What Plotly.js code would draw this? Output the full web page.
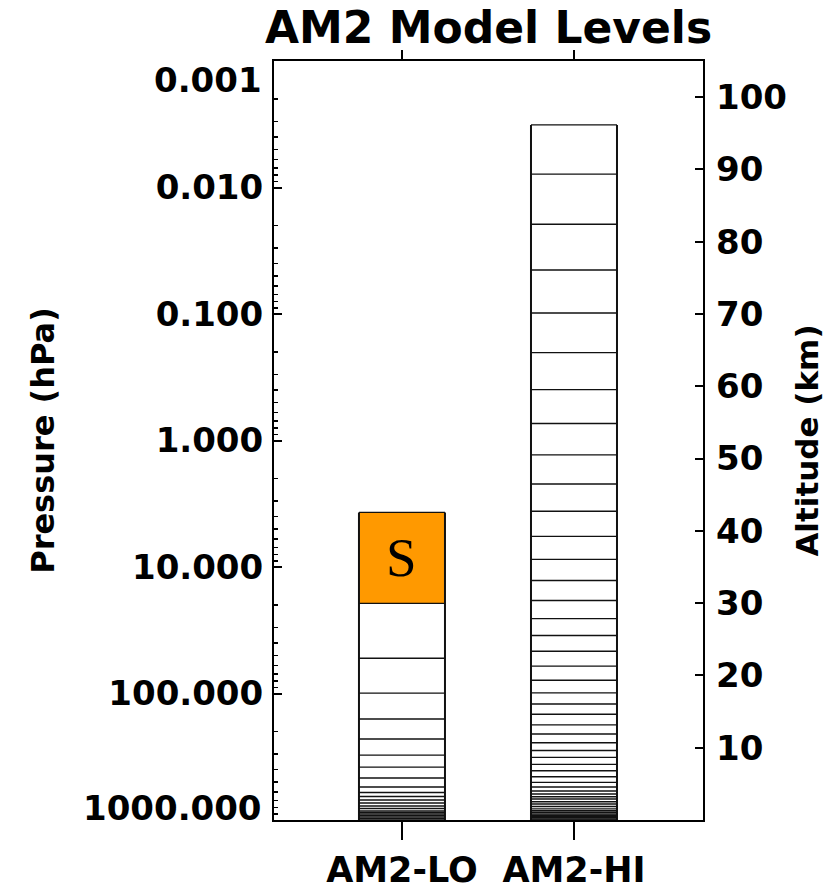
<!DOCTYPE html>
<html>
<head>
<meta charset="utf-8">
<script src="https://cdn.plot.ly/plotly-3.0.1.min.js"></script>
<style>html,body{margin:0;padding:0;background:#fff;}#chart{width:839px;height:889px;}</style>
</head>
<body>
<div id="chart"></div>
<script>
// ---- data ----
var categories = ["AM2-LO", "AM2-HI"];
// model level interfaces (hPa), top to surface
var levelsLO = [3.7, 19.4, 52.6, 99.4, 159, 229, 307, 382, 466, 549, 607, 652, 695, 734, 775, 811, 849, 872, 896, 921, 947, 973, 1000];
var levelsHI = [0.0032, 0.00784, 0.0195, 0.0449, 0.0981, 0.202, 0.396, 0.734, 1.30, 2.21, 3.62, 5.73, 8.70, 12.8, 18.4, 25.6, 34.8, 46.3, 60.8, 78.5, 98.8, 121, 146, 177, 209, 245, 282, 320, 363, 408, 455, 504, 549, 590, 623, 655, 683, 717, 748, 782, 816, 844, 869, 896, 918, 940, 961, 982, 1000];
var stratLabel = "S";
var pressureTicks = [0.001, 0.01, 0.1, 1, 10, 100, 1000];
var pressureTickText = ["0.001", "0.010", "0.100", "1.000", "10.000", "100.000", "1000.000"];
var altitudeTicks = [10, 20, 30, 40, 50, 60, 70, 80, 90, 100];

// ---- build ----
var HALF = 0.25;
var FONT = "DejaVu Sans";
var columns = [levelsLO, levelsHI];
var traces = [];

// stratosphere box (top layer of AM2-LO)
var c0 = 0, pTop = levelsLO[0], pBot = levelsLO[1];
traces.push({
  x: [c0 - HALF, c0 + HALF, c0 + HALF, c0 - HALF, c0 - HALF],
  y: [pTop, pTop, pBot, pBot, pTop],
  mode: "lines", fill: "toself", fillcolor: "#FF9900",
  line: {width: 0, color: "rgba(0,0,0,0)"}, hoverinfo: "skip", showlegend: false
});

columns.forEach(function (lev, i) {
  var xs = [], ys = [];
  lev.forEach(function (p) { xs.push(i - HALF, i + HALF, null); ys.push(p, p, null); });
  traces.push({x: xs, y: ys, mode: "lines", line: {color: "#111", width: 1.4}, hoverinfo: "skip", showlegend: false});
  var top = lev[0], bot = lev[lev.length - 1];
  traces.push({
    x: [i - HALF, i - HALF, null, i + HALF, i + HALF],
    y: [top, bot, null, top, bot],
    mode: "lines", line: {color: "#111", width: 2}, hoverinfo: "skip", showlegend: false
  });
});

// invisible carriers so the top category axis and right altitude axis are drawn
traces.push({x: [0, 1], y: [pressureTicks[0], pressureTicks[0]], xaxis: "x2", yaxis: "y", mode: "markers",
             marker: {opacity: 0}, hoverinfo: "skip", showlegend: false});
traces.push({x: altitudeTicks.map(function () { return 0; }), y: altitudeTicks, xaxis: "x", yaxis: "y2", mode: "markers",
             marker: {opacity: 0}, hoverinfo: "skip", showlegend: false});

var minorVals = [];
for (var e = -3; e < 3; e++) { for (var m = 2; m <= 9; m++) { minorVals.push(m * Math.pow(10, e)); } }

var tickTextShown = pressureTickText.map(function (t, i) { return (i === 0 || i === pressureTickText.length - 1) ? "" : t; });

var xr = [-0.744, 1.75];
var layout = {
  width: 839, height: 889,
  margin: {l: 274, r: 136, t: 61, b: 69},
  paper_bgcolor: "#fff", plot_bgcolor: "#fff",
  showlegend: false, hovermode: false,
  title: {text: "AM2 Model Levels", font: {family: FONT, size: 44, weight: "bold", color: "#000"},
          xref: "paper", x: 0.5, xanchor: "center", yref: "container", y: 1 - 28 / 889, yanchor: "middle"},
  xaxis: {range: xr, tickmode: "array", tickvals: [0, 1], ticktext: categories,
          ticks: "outside", ticklen: 18, tickwidth: 2, tickcolor: "#000",
          showline: true, linewidth: 2, linecolor: "#000", mirror: true,
          showgrid: false, zeroline: false, ticklabelstandoff: 0,
          tickfont: {family: FONT, size: 35, weight: "bold", color: "#000"}},
  xaxis2: {range: xr, overlaying: "x", side: "top", anchor: "y", tickmode: "array", tickvals: [0, 1],
           ticks: "outside", ticklen: 10, tickwidth: 2, tickcolor: "#000",
           showticklabels: false, showline: false, showgrid: false, zeroline: false},
  yaxis: {type: "log", range: [3, -3], tickmode: "array", tickvals: pressureTicks, ticktext: tickTextShown,
          ticks: "inside", ticklen: 8, tickwidth: 2, tickcolor: "#000",
          minor: {tickmode: "array", tickvals: minorVals, ticks: "inside", ticklen: 4, tickwidth: 1.5, tickcolor: "#000", showgrid: false},
          showline: true, linewidth: 2, linecolor: "#000", mirror: true,
          showgrid: false, zeroline: false, ticklabelstandoff: 2,
          tickfont: {family: FONT, size: 34, weight: "bold", color: "#000"},
          title: {text: "Pressure (hPa)", font: {family: FONT, size: 32, weight: "bold", color: "#000"}, standoff: 44}},
  yaxis2: {range: [0, 105], overlaying: "y", side: "right", anchor: "x", tickmode: "array", tickvals: altitudeTicks,
           ticks: "inside", ticklen: 8, tickwidth: 2, tickcolor: "#000",
           showline: false, showgrid: false, zeroline: false, ticklabelstandoff: 12,
           tickfont: {family: FONT, size: 34, weight: "bold", color: "#000"},
           title: {text: "Altitude (km)", font: {family: FONT, size: 31, weight: "bold", color: "#000"}, standoff: 10}},
  annotations: [
    {xref: "x", yref: "y", x: 0, y: Math.log10(Math.sqrt(pTop * pBot)), text: stratLabel, showarrow: false,
     font: {family: "Liberation Serif", size: 55, color: "#000"}},
    {xref: "paper", yref: "y", x: 0, y: Math.log10(pressureTicks[0]), xanchor: "right", yanchor: "middle",
     xshift: -10, yshift: -19, text: pressureTickText[0], showarrow: false,
     font: {family: FONT, size: 34, weight: "bold", color: "#000"}},
    {xref: "paper", yref: "y", x: 0, y: Math.log10(pressureTicks[pressureTicks.length - 1]), xanchor: "right", yanchor: "middle",
     xshift: -10, yshift: 12, text: pressureTickText[pressureTickText.length - 1], showarrow: false,
     font: {family: FONT, size: 34, weight: "bold", color: "#000"}}
  ]
};

Plotly.newPlot("chart", traces, layout, {displayModeBar: false, staticPlot: true});
</script>
</body>
</html>
